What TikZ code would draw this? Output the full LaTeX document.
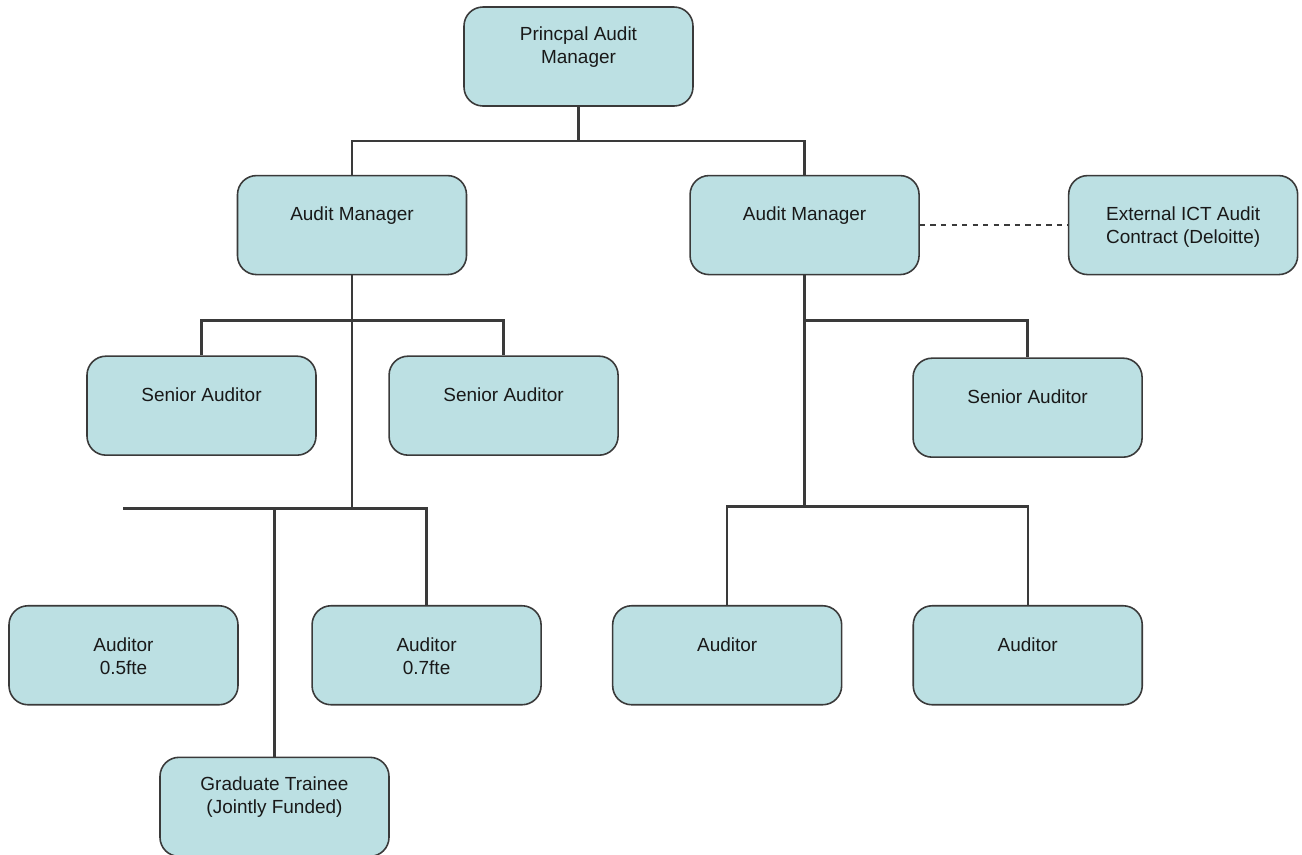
\documentclass[tikz,border=0pt]{standalone}
\usepackage{fontspec}
\setmainfont{Liberation Sans}
\usetikzlibrary{positioning, calc}
\definecolor{auditteal}{RGB}{188, 224, 227}
\definecolor{auditline}{RGB}{58, 58, 58}
\tikzset{
  rolebox/.style={
    rectangle, rounded corners=0.38cm,
    draw=auditline, fill=auditteal, line width=0.9pt,
    minimum width=4.58cm, minimum height=1.98cm, inner sep=0pt
  },
  roletext/.style={
    anchor=north, yshift=-0.64cm, align=center,
    inner sep=0pt, text=black!90,
    font=\fontsize{10.8}{13.1}\selectfont
  },
  conn/.style={draw=auditline, line width=1.3pt},
  dconn/.style={draw=auditline, dashed, line width=1pt},
}
\begin{document}
\begin{tikzpicture}
    \useasboundingbox (-11.57,1.13) rectangle (14.47,-15.95);

    \node[rolebox, label={[roletext, yshift=0.24cm]north:Princpal Audit\\Manager}] (pam) at (0,0) {};

    \node[rolebox, below=1.36cm of pam, xshift=-4.53cm, label={[roletext]north:Audit Manager}] (am1) {};
    \node[rolebox, right=4.44cm of am1, label={[roletext]north:Audit Manager}] (am2) {};
    \node[rolebox, right=2.96cm of am2, label={[roletext]north:External ICT Audit\\Contract (Deloitte)}] (ext) {};

    \node[rolebox, below=1.6cm of am1, xshift=-3.01cm, label={[roletext]north:Senior Auditor}] (sa1) {};
    \node[rolebox, right=1.43cm of sa1, label={[roletext]north:Senior Auditor}] (sa2) {};
    \node[rolebox, below=1.64cm of am2, xshift=4.46cm, label={[roletext]north:Senior Auditor}] (sa3) {};

    \node[rolebox, below=2.98cm of sa1, xshift=-1.56cm, label={[roletext]north:Auditor\\0.5fte}] (au1) {};
    \node[rolebox, right=1.45cm of au1, label={[roletext]north:Auditor\\0.7fte}] (au2) {};
    \node[rolebox, right=1.40cm of au2, label={[roletext]north:Auditor}] (au3) {};
    \node[rolebox, right=1.40cm of au3, label={[roletext]north:Auditor}] (au4) {};
    \node[rolebox, below=1.02cm of au1, xshift=3.02cm, label={[roletext, yshift=0.24cm]north:Graduate Trainee\\(Jointly Funded)}] (gt) {};

    \coordinate (j0) at ($(pam.south)+(0,-0.68)$);
    \coordinate (j1) at ($(am1.south)+(0,-0.9)$);
    \coordinate (j2) at ($(am1.south)+(0,-4.66)$);
    \coordinate (j3) at ($(am2.south)+(0,-0.9)$);
    \coordinate (j4) at ($(am2.south)+(0,-4.62)$);
    \coordinate (stub) at (au1 |- j2);

    \draw[conn] (pam) -- (j0);
    \draw[conn] (am1) |- (j0) -| (am2);
    \draw[conn] (am1) -- (j2);
    \draw[conn] (sa1) |- (j1) -| (sa2);
    \draw[conn] (stub) -| (au2);
    \draw[conn] (gt) -- (gt |- j2);
    \draw[conn] (am2) -- (j4);
    \draw[conn] (j3) -| (sa3);
    \draw[conn] (au3) |- (j4) -| (au4);
    \draw[dconn] (am2) -- (ext);
  \end{tikzpicture}
\end{document}
